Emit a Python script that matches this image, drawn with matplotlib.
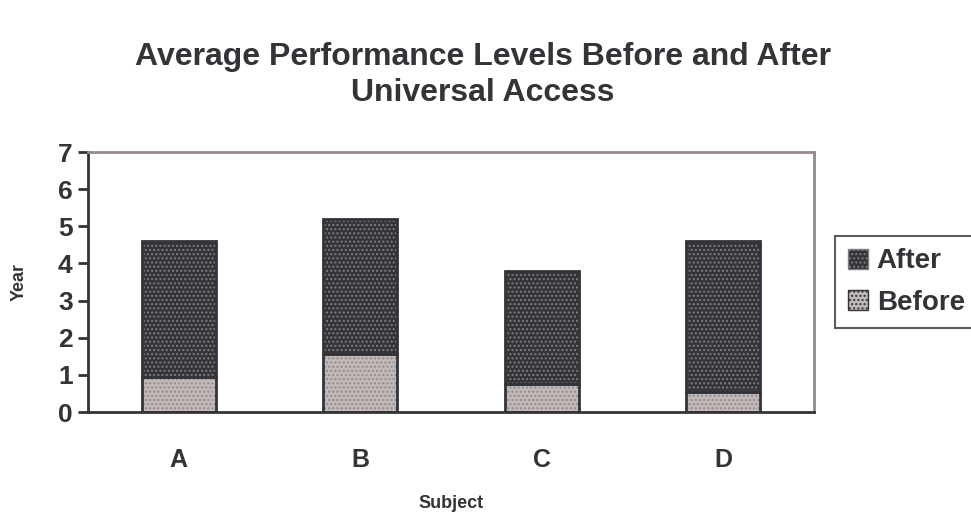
import numpy as np
import matplotlib.pyplot as plt
from matplotlib.patches import Patch

plt.rcParams['font.family'] = ['Liberation Sans', 'DejaVu Sans']
plt.rcParams['font.weight'] = 'bold'
plt.rcParams['axes.labelweight'] = 'bold'
plt.rcParams['hatch.linewidth'] = 1.0

subjects = ['A', 'B', 'C', 'D']
before = [0.95, 1.55, 0.75, 0.55]
after = [3.65, 3.65, 3.05, 4.05]   # stacked on top of before

TXT = '#333338'
DARK = '#333338'
LIGHT = '#c2b9b9'

fig = plt.figure(figsize=(9.71, 5.16), dpi=100)
ax = fig.add_axes([88/971, 1 - 412/516, (814-88)/971, 260/516])

x = np.arange(len(subjects))
w = 0.41

# fills
ax.bar(x, before, w, color=LIGHT, edgecolor='none', zorder=2)
ax.bar(x, after, w, bottom=before, color=DARK, edgecolor='none', zorder=2)
# dot patterns
ax.bar(x, before, w, fill=False, hatch='....', edgecolor='#948a8a', linewidth=0, zorder=3)
ax.bar(x, after, w, bottom=before, fill=False, hatch='....', edgecolor='#7d7d84', linewidth=0, zorder=3)
# outlines
ax.bar(x, before, w, fill=False, edgecolor=DARK, linewidth=2, zorder=4)
ax.bar(x, after, w, bottom=before, fill=False, edgecolor=DARK, linewidth=2, zorder=4)

ax.set_xlim(-0.5, 3.5)
ax.set_ylim(0, 7)
ax.set_yticks(range(8))
ax.set_xticks(x)
ax.set_xticklabels(subjects)
ax.tick_params(axis='y', length=7, width=2, color=TXT, labelsize=19, labelcolor=TXT, pad=4)
ax.tick_params(axis='x', length=0, labelsize=18, labelcolor=TXT, pad=26)

for s in ['left', 'bottom']:
    ax.spines[s].set_color(TXT)
    ax.spines[s].set_linewidth(2)
for s in ['top', 'right']:
    ax.spines[s].set_color('#958a8a')
    ax.spines[s].set_linewidth(2)

ax.set_ylabel('Year', fontsize=13, color=TXT)
ax.yaxis.set_label_coords(-60/726, 0.5)
ax.set_xlabel('Subject', fontsize=13, color=TXT)
ax.xaxis.set_label_coords(0.5, -83/260)

fig.text(483/971, 1 - 75/516, 'Average Performance Levels Before and After\nUniversal Access',
         ha='center', va='center', fontsize=23, fontweight='bold', color=TXT, linespacing=1.3)

handles = [Patch(facecolor=DARK, edgecolor='#7d7d84', hatch='....', label='After'),
           Patch(facecolor=LIGHT, edgecolor=DARK, hatch='....', label='Before')]
leg = fig.legend(handles=handles, loc='upper left', bbox_to_anchor=(835/971, 1 - 236/516),
                 fontsize=20, frameon=True, fancybox=False, handlelength=0.75, handleheight=0.75,
                 handletextpad=0.3, borderpad=0.45, labelspacing=0.55, borderaxespad=0)
leg.get_frame().set_edgecolor(TXT)
leg.get_frame().set_linewidth(1.5)
for t in leg.get_texts():
    t.set_color(TXT)

fig.savefig('out.png', dpi=100)
